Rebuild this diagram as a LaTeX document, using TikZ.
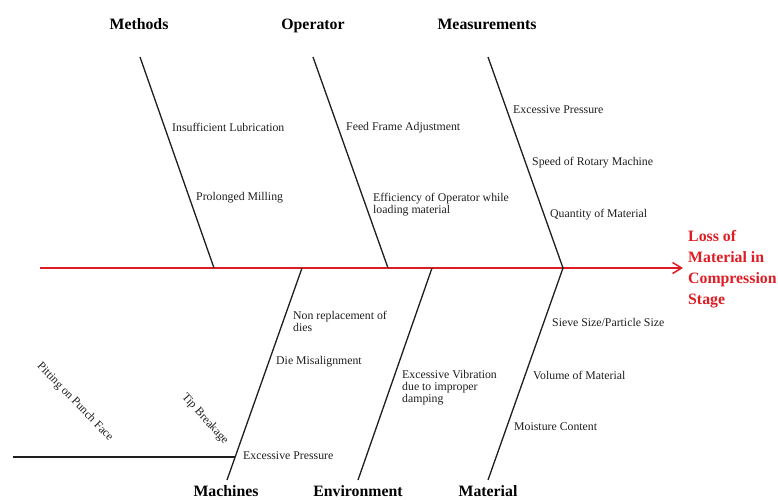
\documentclass[tikz,border=0pt]{standalone}
\usepackage{fontspec}
\setmainfont{Liberation Serif}
\usetikzlibrary{arrows.meta}
\definecolor{spinered}{RGB}{222,28,36}
\definecolor{boneblack}{RGB}{30,30,30}
\tikzset{
  cause/.style={anchor=west,inner sep=0pt,align=left,text=boneblack,
    font=\fontsize{11.8}{12}\selectfont},
  cat/.style={anchor=base,inner sep=0pt,text=black,
    font=\fontsize{15.8}{18}\selectfont\bfseries},
  bone/.style={line width=1.3pt,draw=boneblack},
  spine/.style={line width=1.8pt,draw=spinered,-{Straight Barb[length=9pt,width=11pt,line width=1.5pt]}},
  effect/.style={anchor=west,inner sep=0pt,align=left,text=spinered,
    font=\fontsize{15.8}{21}\selectfont\bfseries},
  tilted/.style={inner sep=0pt,text=boneblack,font=\fontsize{11.8}{12}\selectfont}
}
\begin{document}
\begin{tikzpicture}[x=1pt,y=-1pt]
\useasboundingbox (0,0) rectangle (778,499);
% spine
\coordinate (tail) at (40,268);
\coordinate (head) at (683,268);
\draw[spine] (tail) -- (head);
\node[effect] (effect) at (688,269) {Loss of\\Material in\\Compression\\Stage};
% top bones
\coordinate (meth1) at (140,57);  \coordinate (meth2) at (214,268);
\coordinate (oper1) at (313,57);  \coordinate (oper2) at (388,268);
\coordinate (meas1) at (488,57);  \coordinate (meas2) at (563,268);
\draw[bone] (meth1) -- (meth2);
\draw[bone] (oper1) -- (oper2);
\draw[bone] (meas1) -- (meas2);
% bottom bones
\coordinate (mach1) at (302,268); \coordinate (mach2) at (227,480);
\coordinate (envi1) at (432,268); \coordinate (envi2) at (358,480);
\coordinate (matl1) at (563,268); \coordinate (matl2) at (488,480);
\draw[bone] (mach1) -- (mach2);
\draw[bone] (envi1) -- (envi2);
\draw[bone] (matl1) -- (matl2);
% sub-bone of Machines
\coordinate (sub1) at (13,457);
\coordinate (sub2) at (235,457);
\draw[bone] (sub1) -- (sub2);
% category labels
\node[cat] (methods) at (139,29) {Methods};
\node[cat] (operator) at (313,29) {Operator};
\node[cat] (measurements) at (487,29) {Measurements};
\node[cat] (machines) at (226,496) {Machines};
\node[cat] (environment) at (358,496) {Environment};
\node[cat] (material) at (488,496) {Material};
% causes: methods
\node[cause] (c1) at (172,127) {Insufficient Lubrication};
\node[cause] (c2) at (196,198) {Prolonged Milling};
% causes: operator
\node[cause] (c3) at (346,128) {Feed Frame Adjustment};
\node[cause] (c4) at (373,205) {Efficiency of Operator while\\loading material};
% causes: measurements
\node[cause] (c5) at (513,110) {Excessive Pressure};
\node[cause] (c6) at (532,163) {Speed of Rotary Machine};
\node[cause] (c7) at (550,215) {Quantity of Material};
% causes: machines
\node[cause] (c8) at (293,321.5) {Non replacement of\\dies};
\node[cause] (c9) at (276,362) {Die Misalignment};
\node[cause] (c10) at (243,456) {Excessive Pressure};
\node[tilted,rotate=-46] (c11) at (75,402) {Pitting on Punch Face};
\node[tilted,rotate=-48] (c12) at (205,419) {Tip Breakage};
% causes: environment
\node[cause] (c13) at (402,387.5) {Excessive Vibration\\due to improper\\damping};
% causes: material
\node[cause] (c14) at (552,322) {Sieve Size/Particle Size};
\node[cause] (c15) at (533,375) {Volume of Material};
\node[cause] (c16) at (514,427) {Moisture Content};
\end{tikzpicture}
\end{document}
